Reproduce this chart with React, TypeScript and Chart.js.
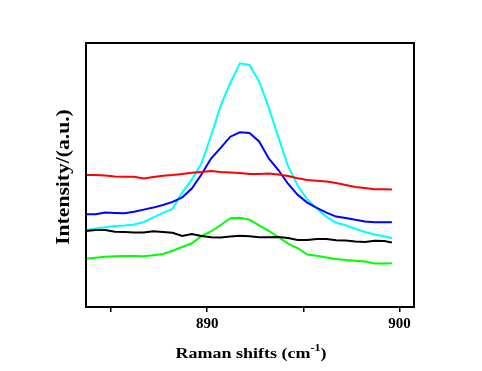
import React, { useEffect, useRef } from "react";
import { Chart, registerables } from "chart.js";

Chart.register(...registerables);

const shifts = [
  883.7, 884.2, 884.7, 885.2, 885.7, 886.2, 886.7, 887.2, 887.7, 888.2, 888.7,
  889.2, 889.7, 890.2, 890.7, 891.2, 891.7, 892.2, 892.7, 893.2, 893.7, 894.2,
  894.7, 895.2, 895.7, 896.2, 896.7, 897.2, 897.7, 898.2, 898.7, 899.2, 899.6,
];

const redSeries = [
  132, 132, 131.5, 130.5, 130.3, 130.3, 128.5, 130, 131.3, 132, 133, 134.2, 135,
  136, 135, 134.5, 134, 133, 133, 133.5, 132.5, 131, 128.7, 127, 126.3, 125.5,
  124, 122, 120, 119, 117.7, 117.7, 117.5,
];

const blueSeries = [
  92.7, 92.7, 94.5, 94, 93.7, 95.2, 97.4, 99.4, 102, 105.1, 109.5, 118.5, 132.5,
  148.5, 159.2, 170.3, 174.7, 174, 165.5, 148.5, 137, 123.3, 112.2, 104.4, 99.1,
  94.3, 90.4, 89.1, 87.2, 85.6, 84.7, 84.7, 84.7,
];

const cyanSeries = [
  77, 78.4, 79.8, 81, 81.6, 82.6, 85, 89.6, 94.2, 98, 114.6, 127.4, 143.5, 171.2,
  201.3, 224, 243.7, 242, 225.3, 199.4, 169.6, 141.1, 121.5, 107.8, 98.4, 90.1,
  84.3, 81.8, 78.2, 75, 72.5, 70.7, 68.7,
];

const blackSeries = [
  76, 77, 77, 75.3, 75, 74.5, 74.5, 75.7, 75, 74.3, 71, 73, 71, 69.8, 69.5, 70.5,
  71.2, 70.7, 69.8, 69.7, 70, 69, 67, 67, 68, 68, 66.7, 66.4, 65.5, 65, 66.2, 66,
  64.5,
];

const greenSeries = [
  48.3, 49.3, 50.3, 50.8, 51, 51, 50.7, 51.8, 53, 56.2, 60, 63.7, 70.8, 75.5, 82,
  88.8, 89.3, 87.2, 81.7, 76.2, 70, 63.4, 59, 52.4, 51.2, 49.5, 48, 47, 46.3,
  45.5, 43.6, 43.5, 43.7,
];

const xTicks = [885, 890, 895, 900];
const xTickLabels: Record<number, string> = { 885: "", 890: "890", 895: "", 900: "900" };

const FONT = "'Liberation Serif', 'Times New Roman', serif";

const mk = (data: number[], color: string) => ({
  data: shifts.map((x, i) => ({ x, y: data[i] })),
  borderColor: color,
  backgroundColor: color,
  borderWidth: 2,
  pointRadius: 0,
  tension: 0,
  fill: false,
});

const decorPlugin = {
  id: "decor",
  afterDraw(chart: any) {
    const { ctx, chartArea } = chart;
    ctx.save();
    ctx.strokeStyle = "#000";
    ctx.lineWidth = 2;
    ctx.strokeRect(chartArea.left, chartArea.top, chartArea.right - chartArea.left, chartArea.bottom - chartArea.top);

    // y title
    ctx.fillStyle = "#000";
    ctx.font = `bold 18px ${FONT}`;
    ctx.textAlign = "center";
    ctx.textBaseline = "middle";
    ctx.save();
    ctx.translate(64, 177);
    ctx.rotate(-Math.PI / 2);
    ctx.scale(1.2, 1.05);
    ctx.fillText("Intensity/(a.u.)", 0, 0);
    ctx.restore();

    // x title with superscript
    const main = "Raman shifts (cm";
    const sup = "-1";
    const end = ")";
    ctx.font = `bold 15px ${FONT}`;
    const wMain = ctx.measureText(main).width;
    const wEnd = ctx.measureText(end).width;
    ctx.font = `bold 10px ${FONT}`;
    const wSup = ctx.measureText(sup).width;
    const total = wMain + wSup + wEnd;
    ctx.save();
    ctx.translate(251, 354);
    ctx.scale(1.2, 1);
    let x = -total / 2;
    const y = 0;
    ctx.textAlign = "left";
    ctx.textBaseline = "middle";
    ctx.font = `bold 15px ${FONT}`;
    ctx.fillText(main, x, y);
    x += wMain;
    ctx.font = `bold 10px ${FONT}`;
    ctx.fillText(sup, x, y - 6);
    x += wSup;
    ctx.font = `bold 15px ${FONT}`;
    ctx.fillText(end, x, y);
    ctx.restore();
    ctx.restore();
  },
};

export default function App() {
  const ref = useRef<HTMLCanvasElement | null>(null);
  useEffect(() => {
    if (!ref.current) return;
    const chart = new Chart(ref.current, {
      type: "line",
      data: {
        datasets: [
          mk(blackSeries, "#000000"),
          mk(redSeries, "#ff0000"),
          mk(greenSeries, "#00ff00"),
          mk(blueSeries, "#0000ff"),
          mk(cyanSeries, "#00ffff"),
        ],
      },
      options: {
        animation: false,
        responsive: false,
        maintainAspectRatio: false,
        layout: { padding: { left: 86, right: 68, top: 43, bottom: 0 } },
        plugins: { legend: { display: false }, tooltip: { enabled: false } },
        scales: {
          x: {
            type: "linear",
            min: 883.7,
            max: 900.75,
            afterBuildTicks: (scale: any) => {
              scale.ticks = xTicks.map((v) => ({ value: v }));
            },
            afterFit: (scale: any) => {
              scale.height = 64;
            },
            ticks: {
              autoSkip: false,
              maxRotation: 0,
              padding: 3,
              color: "#000",
              font: { family: FONT, size: 15, weight: "bold" },
              callback: (v: any) => xTickLabels[v as number] ?? "",
            },
            grid: {
              drawOnChartArea: false,
              drawTicks: true,
              tickLength: 5,
              color: "#000",
              lineWidth: 1.5,
            },
            border: { display: false },
          },
          y: {
            display: false,
            min: 0,
            max: 264,
          },
        },
      },
      plugins: [decorPlugin],
    });
    return () => chart.destroy();
  }, []);
  return (
    <div style={{ position: "fixed", left: 0, top: 0, width: 482, height: 371, background: "#fff" }}>
      <canvas ref={ref} width={482} height={371} style={{ width: 482, height: 371, display: "block" }} />
    </div>
  );
}
